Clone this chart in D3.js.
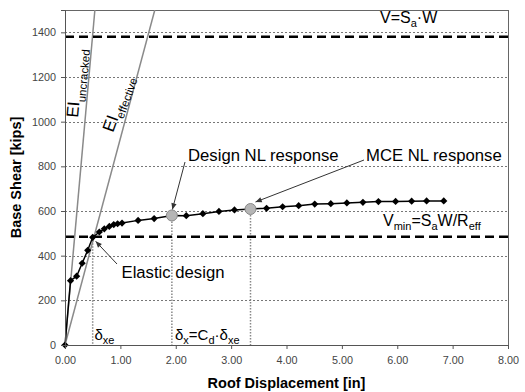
<!DOCTYPE html>
<html><head><meta charset="utf-8">
<script src="https://cdn.jsdelivr.net/npm/d3@7"></script>
<style>
body{margin:0;background:#fff}
svg{display:block;font-family:"Liberation Sans",Arial,sans-serif}
</style>
</head><body>
<svg id="c" width="525" height="392"></svg>
<script>
// ---- data ----
const displacement = [0.00,0.10,0.21,0.31,0.41,0.50,0.62,0.71,0.80,0.88,0.95,1.03,1.32,1.61,1.93,2.19,2.49,2.78,3.06,3.35,3.64,3.93,4.22,4.51,4.80,5.09,5.38,5.66,5.97,6.26,6.53,6.84];
const baseShear    = [0,288,308,366,424,482,506,520,531,539,543,546,558,566,580,579,588,598,605,609,612,619,624,631,633,636,639,642,643,644,645,645];
const xTicks = [0,1,2,3,4,5,6,7,8];
const yTicks = [0,200,400,600,800,1000,1200,1400];
const elasticPoint = [0.50, 482];   // delta_xe
const designPoint  = [1.93, 580];   // Design NL response
const mcePoint     = [3.35, 609];   // MCE NL response
const vElastic = 1380;              // V = Sa W
const vMin = 485;                   // Vmin = Sa W / Reff
const eiNames  = ["uncracked","effective"];
const eiSlopes = [2780, 925];       // kips / in

// ---- layout ----
const svg = d3.select("#c");
const L = 65, R = 508, T = 10, B = 345;
const x = d3.scaleLinear([0,8],[L,R]);
const y = d3.scaleLinear([0,1500],[B,T]);

const defs = svg.append("defs");
defs.append("clipPath").attr("id","clip").append("rect")
  .attr("x",L).attr("y",T).attr("width",R-L).attr("height",B-T);
defs.append("marker").attr("id","arr").attr("viewBox","-8 -4 9 8")
  .attr("refX",0).attr("refY",0).attr("markerWidth",8).attr("markerHeight",8)
  .attr("markerUnits","userSpaceOnUse").attr("orient","auto")
  .append("path").attr("d","M0,0L-7,-3L-7,3Z").attr("fill","#333");

// gridlines
svg.append("g").selectAll("line").data(yTicks.filter(d=>d>0)).join("line")
  .attr("x1",L).attr("x2",R).attr("y1",d=>Math.round(y(d))+0.5).attr("y2",d=>Math.round(y(d))+0.5)
  .attr("stroke","#777").attr("stroke-width",1).attr("stroke-dasharray","2,2");

// frame
svg.append("rect").attr("x",L+0.5).attr("y",T+0.5).attr("width",R-L).attr("height",B-T)
  .attr("fill","none").attr("stroke","#666");

const plot = svg.append("g").attr("clip-path","url(#clip)");

// EI lines
plot.selectAll(".ei").data(eiSlopes).join("line")
  .attr("x1",x(0)).attr("y1",y(0))
  .attr("x2",d=>x(1500/d)).attr("y2",y(1500))
  .attr("stroke","#8a8a8a").attr("stroke-width",1.5);

// vertical dotted markers
plot.selectAll(".vd").data([elasticPoint,designPoint,mcePoint]).join("line")
  .attr("x1",d=>x(d[0])).attr("x2",d=>x(d[0]))
  .attr("y1",d=>y(d[1])).attr("y2",B)
  .attr("stroke","#888").attr("stroke-width",1.5).attr("stroke-dasharray","1.5,1.5");

// dashed force levels
plot.selectAll(".hd").data([vElastic,vMin]).join("line")
  .attr("x1",L).attr("x2",R).attr("y1",d=>y(d)).attr("y2",d=>y(d))
  .attr("stroke","#000").attr("stroke-width",2.5).attr("stroke-dasharray","9,5");

// pushover curve
const pts = displacement.map((d,i)=>[d,baseShear[i]]);
svg.append("path").datum(pts)
  .attr("d",d3.line().x(d=>x(d[0])).y(d=>y(d[1])))
  .attr("fill","none").attr("stroke","#000").attr("stroke-width",1.5);
svg.append("g").selectAll("path").data(pts).join("path")
  .attr("transform",d=>`translate(${x(d[0])},${y(d[1])})`)
  .attr("d","M0,-3.6L3.6,0L0,3.6L-3.6,0Z").attr("fill","#000");
svg.append("g").selectAll("circle").data([designPoint,mcePoint]).join("circle")
  .attr("cx",d=>x(d[0])).attr("cy",d=>y(d[1])).attr("r",5.5)
  .attr("fill","#b5b5b5").attr("stroke","#888").attr("stroke-width",1);

// axes
const xa = svg.append("g").attr("transform",`translate(0,${B})`)
  .call(d3.axisBottom(x).tickValues(xTicks).tickFormat(d3.format(".2f")).tickSize(4));
const ya = svg.append("g").attr("transform",`translate(${L},0)`)
  .call(d3.axisLeft(y).tickValues(yTicks).tickFormat(d3.format("d")).tickSize(4));
[xa,ya].forEach(g=>{
  g.select(".domain").attr("stroke","#555");
  g.selectAll(".tick line").attr("stroke","#555");
  g.selectAll("text").attr("fill","#444").style("font-size","10.8px")
   .style("font-family","'Liberation Sans',Arial,sans-serif");
});
xa.selectAll("text").attr("dy","1.1em");
ya.selectAll("text").attr("x",-9);

// axis titles
svg.append("text").attr("x",(L+R)/2).attr("y",388).attr("text-anchor","middle")
  .style("font-size","14.5px").style("font-weight","bold").text("Roof Displacement [in]");
svg.append("text").attr("transform",`translate(21,${(T+B)/2}) rotate(-90)`).attr("text-anchor","middle")
  .style("font-size","14.5px").style("font-weight","bold").text("Base Shear [kips]");

// helper for text with subscripts
function rich(parent, parts, size, subSize){
  const t = parent.append("text").style("font-size",size+"px");
  let shifted = false;
  parts.forEach(p=>{
    const sub = p[1];
    const ts = t.append("tspan").text(p[0]);
    if(sub && !shifted){ ts.attr("dy", sub).style("font-size",subSize+"px"); shifted = sub; }
    else if(sub && shifted){ ts.style("font-size",subSize+"px"); }
    else if(!sub && shifted){ ts.attr("dy",-shifted); shifted=false; }
  });
  return t;
}

// EI labels
const eiLab1 = svg.append("text").attr("transform","translate(78,118) rotate(-85)").style("font-size","17px");
eiLab1.append("tspan").text("EI");
eiLab1.append("tspan").attr("dy",6).style("font-size","11.5px").text(eiNames[0]);
const eiLab2 = svg.append("text").attr("transform","translate(113,133) rotate(-70)").style("font-size","17px");
eiLab2.append("tspan").text("EI");
eiLab2.append("tspan").attr("dy",5).style("font-size","11.5px").text(eiNames[1]);

// force level labels
rich(svg,[["V=S"],["a",4],["·W"]],16,11).attr("x",380).attr("y",23);
rich(svg,[["V"],["min",4],["=S"],["a",4],["W/R"],["eff",4]],16,11).attr("x",383).attr("y",225.5);

// delta labels
rich(svg,[["δ"],["xe",4]],15,11).attr("x",94.5).attr("y",340);
rich(svg,[["δ"],["x",4],["=C"],["d",4],["·δ"],["xe",4]],15,11).attr("x",175).attr("y",340);

// annotations
svg.append("text").attr("x",188).attr("y",161).style("font-size","16.7px").text("Design NL response");
svg.append("text").attr("x",366).attr("y",161).style("font-size","16.7px").text("MCE NL response");
svg.append("text").attr("x",121.5).attr("y",278).style("font-size","16.7px").text("Elastic design");

const arrows = [
  [[185,162],[x(designPoint[0])+0.5,y(designPoint[1])-6]],
  [[364,160],[x(mcePoint[0])+5,y(mcePoint[1])-7]],
  [[117,264],[x(elasticPoint[0])+3,y(elasticPoint[1])+4]]
];
svg.append("g").selectAll("line").data(arrows).join("line")
  .attr("x1",d=>d[0][0]).attr("y1",d=>d[0][1]).attr("x2",d=>d[1][0]).attr("y2",d=>d[1][1])
  .attr("stroke","#333").attr("stroke-width",1).attr("marker-end","url(#arr)");
</script>
</body></html>
